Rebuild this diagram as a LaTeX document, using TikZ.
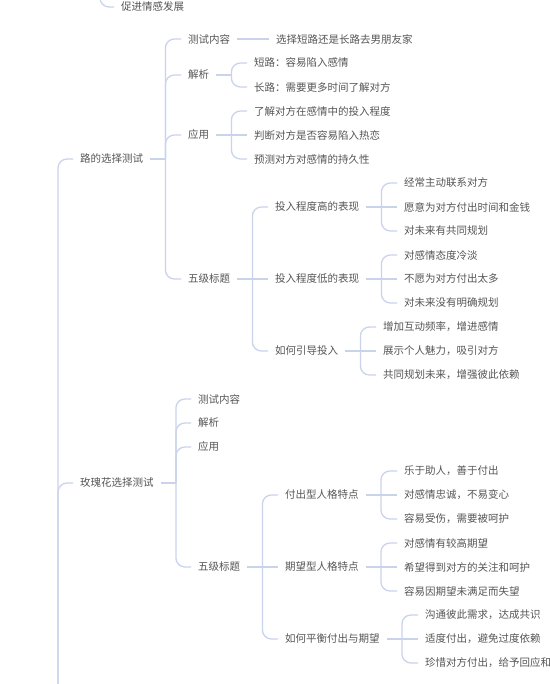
\documentclass[tikz,border=0pt]{standalone}
\usepackage{fontspec}
\setmainfont{Noto Sans CJK SC}
\usetikzlibrary{calc}
\definecolor{txtgray}{HTML}{555555}
\definecolor{linkblue}{HTML}{C9D3EC}
\tikzset{
  topic/.style={anchor=west, inner xsep=7pt, inner ysep=2pt, text=txtgray,
    font=\fontsize{10.5pt}{12pt}\selectfont},
  link/.style={draw=linkblue, line width=1.3pt},
  twig/.style={link, rounded corners=9pt},
}
% parent line, then one twig per child (bent unless level with the parent)
\newcommand{\fork}[2]{%
  \draw[link] (#1.east) -- ++(15,0) coordinate (#1-b);
  \foreach \kid in {#2}{%
    \path (#1-b); \pgfgetlastxy{\bx}{\by}%
    \path (\kid.west); \pgfgetlastxy{\kx}{\ky}%
    \pgfmathsetmacro{\dy}{abs(\ky-\by)}%
    \ifdim\dy pt<1pt
      \draw[link] (#1-b) -- (\kid.west);
    \else
      \draw[twig] (#1-b) |- (\kid.west);
    \fi
  }
}

\begin{document}
\begin{tikzpicture}[x=1pt, y=-1pt]
  \useasboundingbox (0,0) rectangle (549,684);
  \clip (0,0) rectangle (549,684);

  % free ends of the branches cut off by the frame
  \coordinate (prev-b) at (100,-30);
  \coordinate (root-b) at (58,740);
  \coordinate (third-b) at (166,740);

  \node[topic] (prev-last) at (114,7) {促进情感发展};
  \draw[twig] (prev-b) |- (prev-last.west);

  % 路的选择测试
  \node[topic] (road) at (73,159) {路的选择测试};
  \node[topic] (road-test) at (181,39) {测试内容};
  \node[topic] (road-ana) at (181,75) {解析};
  \node[topic] (road-use) at (181,135) {应用};
  \node[topic] (road-five) at (181,279) {五级标题};

  \node[topic] (road-test-1) at (269,39) {选择短路还是长路去男朋友家};
  \node[topic] (road-ana-1) at (247,63) {短路：容易陷入感情};
  \node[topic] (road-ana-2) at (247,87) {长路：需要更多时间了解对方};
  \node[topic] (road-use-1) at (247,111) {了解对方在感情中的投入程度};
  \node[topic] (road-use-2) at (247,135) {判断对方是否容易陷入热恋};
  \node[topic] (road-use-3) at (247,159) {预测对方对感情的持久性};

  \node[topic] (road-high) at (268,207) {投入程度高的表现};
  \node[topic] (road-low) at (268,279) {投入程度低的表现};
  \node[topic] (road-guide) at (268,351) {如何引导投入};

  \node[topic] (road-high-1) at (397,183) {经常主动联系对方};
  \node[topic] (road-high-2) at (397,207) {愿意为对方付出时间和金钱};
  \node[topic] (road-high-3) at (397,231) {对未来有共同规划};
  \node[topic] (road-low-1) at (397,255) {对感情态度冷淡};
  \node[topic] (road-low-2) at (397,279) {不愿为对方付出太多};
  \node[topic] (road-low-3) at (397,303) {对未来没有明确规划};
  \node[topic] (road-guide-1) at (376,327) {增加互动频率，增进感情};
  \node[topic] (road-guide-2) at (376,351) {展示个人魅力，吸引对方};
  \node[topic] (road-guide-3) at (376,375) {共同规划未来，增强彼此依赖};

  % 玫瑰花选择测试
  \node[topic] (rose) at (73,483) {玫瑰花选择测试};
  \node[topic] (rose-test) at (191,399) {测试内容};
  \node[topic] (rose-ana) at (191,423) {解析};
  \node[topic] (rose-use) at (191,447) {应用};
  \node[topic] (rose-five) at (191,567) {五级标题};

  \node[topic] (rose-give) at (278,495) {付出型人格特点};
  \node[topic] (rose-hope) at (278,567) {期望型人格特点};
  \node[topic] (rose-even) at (278,639) {如何平衡付出与期望};

  \node[topic] (rose-give-1) at (397,471) {乐于助人，善于付出};
  \node[topic] (rose-give-2) at (397,495) {对感情忠诚，不易变心};
  \node[topic] (rose-give-3) at (397,519) {容易受伤，需要被呵护};
  \node[topic] (rose-hope-1) at (397,543) {对感情有较高期望};
  \node[topic] (rose-hope-2) at (397,567) {希望得到对方的关注和呵护};
  \node[topic] (rose-hope-3) at (397,591) {容易因期望未满足而失望};
  \node[topic] (rose-even-1) at (418,615) {沟通彼此需求，达成共识};
  \node[topic] (rose-even-2) at (418,639) {适度付出，避免过度依赖};
  \node[topic] (rose-even-3) at (418,663) {珍惜对方付出，给予回应和};

  % third test, only its first child shows
  \node[topic] (third-test) at (181,690) {测试内容};

  % connectors
  \draw[twig] (root-b) |- (road.west);
  \draw[twig] (root-b) |- (rose.west);
  \draw[twig] (third-b) |- (third-test.west);

  \fork{road}{road-test,road-ana,road-use,road-five}
  \fork{road-test}{road-test-1}
  \fork{road-ana}{road-ana-1,road-ana-2}
  \fork{road-use}{road-use-1,road-use-2,road-use-3}
  \fork{road-five}{road-high,road-low,road-guide}
  \fork{road-high}{road-high-1,road-high-2,road-high-3}
  \fork{road-low}{road-low-1,road-low-2,road-low-3}
  \fork{road-guide}{road-guide-1,road-guide-2,road-guide-3}

  \fork{rose}{rose-test,rose-ana,rose-use,rose-five}
  \fork{rose-five}{rose-give,rose-hope,rose-even}
  \fork{rose-give}{rose-give-1,rose-give-2,rose-give-3}
  \fork{rose-hope}{rose-hope-1,rose-hope-2,rose-hope-3}
  \fork{rose-even}{rose-even-1,rose-even-2,rose-even-3}
\end{tikzpicture}
\end{document}
